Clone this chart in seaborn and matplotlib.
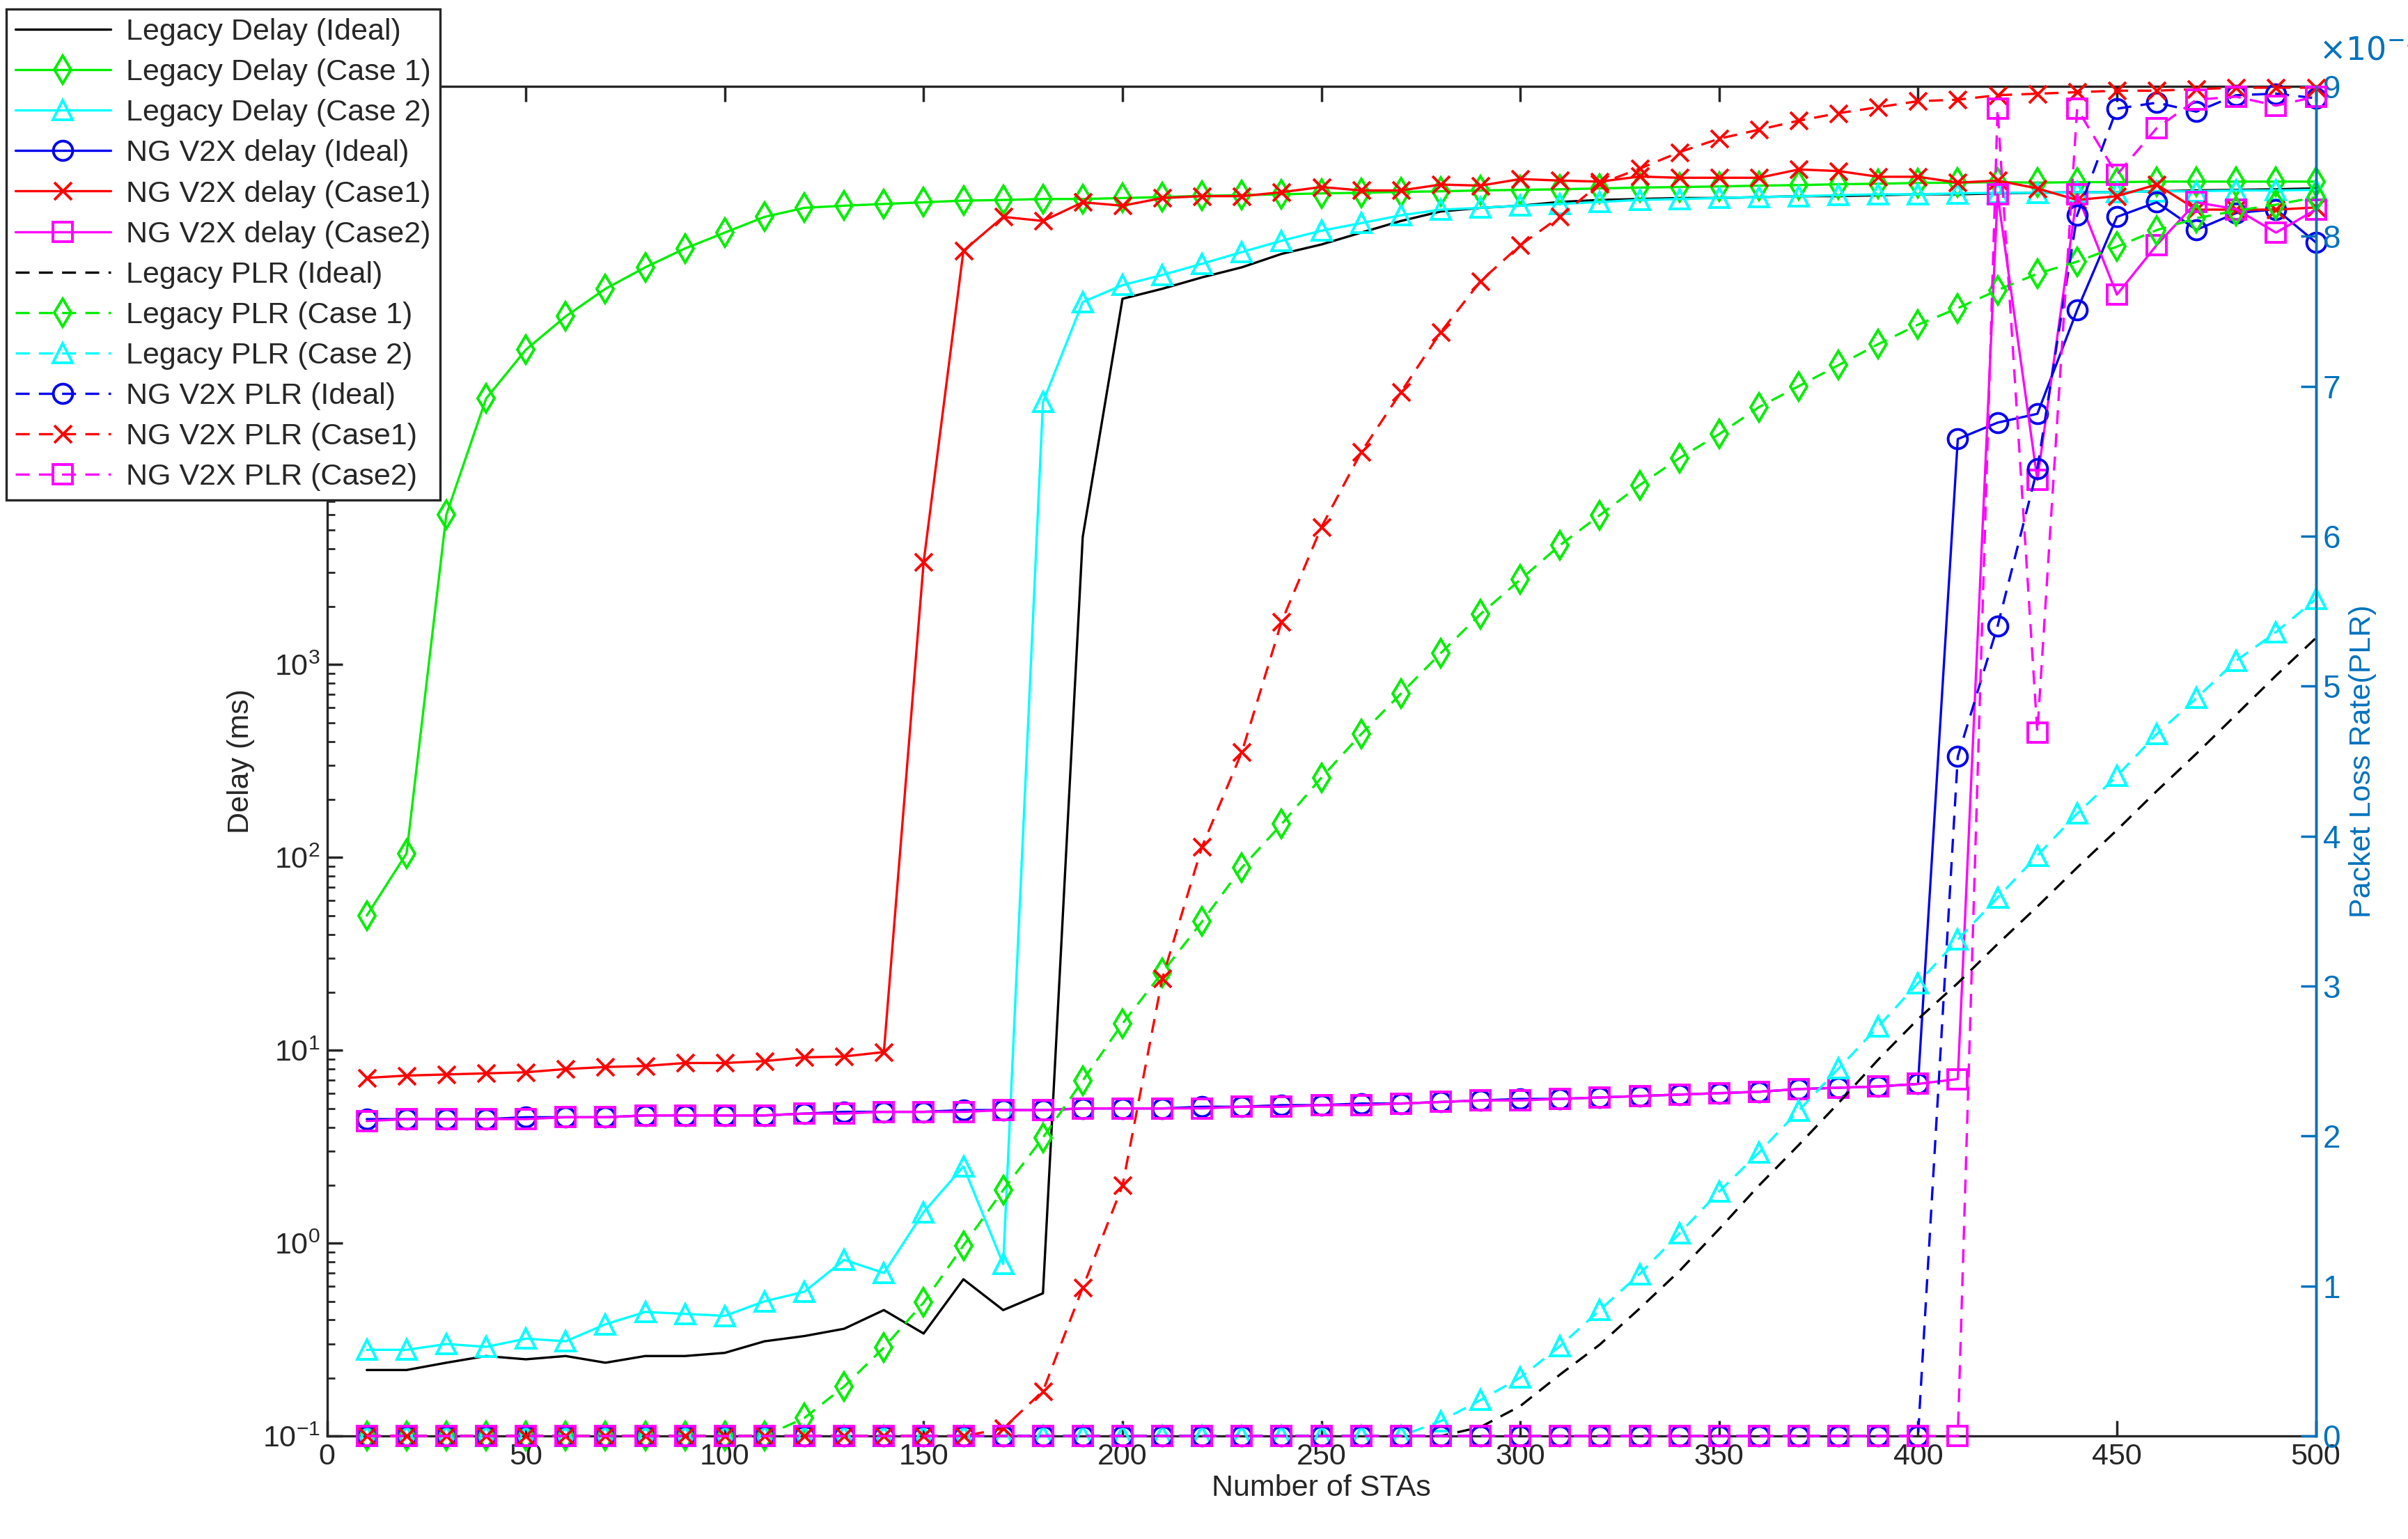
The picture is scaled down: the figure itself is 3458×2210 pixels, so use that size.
import numpy as np
import pandas as pd
import matplotlib
matplotlib.use("Agg")
import matplotlib.pyplot as plt
import seaborn as sns
from matplotlib.ticker import ScalarFormatter, LogLocator, MultipleLocator

sns.set_theme(style="white")
plt.rcParams['font.family'] = ['Liberation Sans', 'DejaVu Sans']

x = list(range(10, 501, 10))

legacy_delay_ideal = [0.22,0.22,0.24,0.26,0.25,0.26,0.24,0.26,0.26,0.27,0.31,0.33,0.36,0.45,0.34,0.65,0.45,0.55,
                      4600,7.9e4,8.9e4,1.02e5,1.15e5,1.35e5,1.51e5,1.74e5,2.0e5,2.24e5,2.34e5,2.4e5,2.51e5,2.57e5,
                      2.6e5,2.63e5,2.63e5,2.66e5,2.69e5,2.69e5,2.72e5,2.75e5,2.75e5,2.78e5,2.8e5,2.82e5,2.82e5,2.85e5,
                      2.88e5,2.9e5,2.92e5,2.95e5]
legacy_delay_c1 = [50,105,6000,2.4e4,4.3e4,6.4e4,8.9e4,1.15e5,1.44e5,1.74e5,2.1e5,2.34e5,2.4e5,2.45e5,2.5e5,2.55e5,
                   2.57e5,2.6e5,2.6e5,2.63e5,2.66e5,2.7e5,2.72e5,2.75e5,2.78e5,2.8e5,2.83e5,2.85e5,2.88e5,2.9e5,
                   2.92e5,2.95e5,2.98e5,3.0e5,3.02e5,3.05e5,3.07e5,3.1e5,3.12e5,3.15e5,3.16e5,3.18e5,3.16e5,3.18e5,
                   3.18e5,3.2e5,3.2e5,3.2e5,3.2e5,3.2e5]
legacy_delay_c2 = [0.28,0.28,0.30,0.29,0.32,0.31,0.38,0.44,0.43,0.42,0.50,0.56,0.82,0.70,1.45,2.5,0.78,
                   2.3e4,7.6e4,9.3e4,1.05e5,1.2e5,1.38e5,1.58e5,1.78e5,1.95e5,2.14e5,2.29e5,2.34e5,2.4e5,2.45e5,
                   2.51e5,2.57e5,2.6e5,2.63e5,2.66e5,2.69e5,2.72e5,2.75e5,2.75e5,2.78e5,2.8e5,2.8e5,2.82e5,2.82e5,
                   2.85e5,2.85e5,2.88e5,2.88e5,2.9e5]
ng_delay_ideal = [4.4,4.4,4.4,4.4,4.5,4.5,4.5,4.6,4.6,4.6,4.6,4.7,4.8,4.8,4.8,4.9,4.9,4.9,5.0,5.0,5.0,5.1,5.1,
                  5.2,5.2,5.3,5.3,5.4,5.5,5.6,5.6,5.7,5.8,5.9,6.0,6.1,6.3,6.4,6.5,6.7,
                  1.48e4,1.8e4,2.0e4,6.9e4,2.1e5,2.5e5,1.8e5,2.2e5,2.3e5,1.55e5]
ng_delay_c1 = [7.2,7.4,7.5,7.6,7.7,8.0,8.2,8.3,8.6,8.6,8.8,9.2,9.3,9.8,3400,1.4e5,2.1e5,2.0e5,2.5e5,2.4e5,
               2.63e5,2.69e5,2.69e5,2.82e5,3.0e5,2.88e5,2.88e5,3.09e5,3.05e5,3.3e5,3.24e5,3.2e5,3.4e5,3.35e5,
               3.35e5,3.35e5,3.7e5,3.63e5,3.39e5,3.39e5,3.16e5,3.24e5,2.95e5,2.57e5,2.69e5,3.09e5,2.29e5,2.29e5,
               2.29e5,2.35e5]
ng_delay_c2 = [4.3,4.4,4.4,4.4,4.4,4.5,4.5,4.6,4.6,4.6,4.6,4.7,4.7,4.8,4.8,4.8,4.9,4.9,5.0,5.0,5.0,5.0,5.1,
               5.1,5.2,5.2,5.3,5.4,5.5,5.5,5.6,5.7,5.8,5.9,6.0,6.1,6.3,6.4,6.5,6.7,7.1,
               2.75e5,9.1e3,2.75e5,8.3e4,1.5e5,2.5e5,2.3e5,1.74e5,2.29e5]

legacy_plr_ideal = [0]*28 + [0.06,0.2,0.41,0.61,0.85,1.1,1.38,1.67,1.94,2.22,2.51,2.78,3.02,3.28,3.53,3.79,
                             4.04,4.30,4.55,4.81,5.07,5.32]
legacy_plr_c1 = [0]*11 + [0.12,0.33,0.59,0.89,1.27,1.64,1.99,2.37,2.75,3.09,3.43,3.79,4.08,4.39,4.68,4.95,5.22,
                          5.48,5.71,5.94,6.14,6.34,6.52,6.68,6.86,7.0,7.14,7.28,7.41,7.52,7.64,7.75,7.83,7.93,
                          8.04,8.12,8.17,8.21,8.26]
legacy_plr_c2 = [0]*27 + [0.1,0.24,0.39,0.6,0.84,1.08,1.35,1.63,1.89,2.17,2.45,2.73,3.02,3.31,3.59,3.87,4.15,
                          4.40,4.68,4.92,5.17,5.36,5.58]
ng_plr_ideal = [0]*40 + [4.53,5.40,6.45,8.14,8.85,8.89,8.83,8.94,8.95,8.92]
ng_plr_c1 = [0]*16 + [0.05,0.3,0.99,1.67,3.05,3.93,4.56,5.43,6.06,6.56,6.96,7.36,7.70,7.94,8.13,8.35,8.45,8.56,
                      8.65,8.71,8.77,8.82,8.86,8.90,8.91,8.94,8.95,8.96,8.97,8.97,8.98,8.99,8.99,8.99]
ng_plr_c2 = [0]*41 + [8.85,4.69,8.85,8.41,8.72,8.91,8.93,8.87,8.93]

delay_series = [
    ("Legacy Delay (Ideal)", legacy_delay_ideal, "black", None),
    ("Legacy Delay (Case 1)", legacy_delay_c1, "#00ee00", "d"),
    ("Legacy Delay (Case 2)", legacy_delay_c2, "cyan", "^"),
    ("NG V2X delay (Ideal)", ng_delay_ideal, "#0000ee", "o"),
    ("NG V2X delay (Case1)", ng_delay_c1, "red", "x"),
    ("NG V2X delay (Case2)", ng_delay_c2, "magenta", "s"),
]
plr_series = [
    ("Legacy PLR (Ideal)", legacy_plr_ideal, "black", None),
    ("Legacy PLR (Case 1)", legacy_plr_c1, "#00ee00", "d"),
    ("Legacy PLR (Case 2)", legacy_plr_c2, "cyan", "^"),
    ("NG V2X PLR (Ideal)", ng_plr_ideal, "#0000ee", "o"),
    ("NG V2X PLR (Case1)", ng_plr_c1, "red", "x"),
    ("NG V2X PLR (Case2)", ng_plr_c2, "magenta", "s"),
]

fig = plt.figure(figsize=(17.29, 11.05), dpi=200)
ax = fig.add_axes([0.1358, 0.0669, 0.9617 - 0.1358, 0.944 - 0.0669])
ax2 = ax.twinx()
blue = "#0072BD"
FS = 15.5

handles = []
def draw(a, name, vals, color, marker, ls, scale=1.0):
    df = pd.DataFrame({"x": x, "y": np.array(vals, dtype=float) * scale})
    kw = dict(color=color, linestyle=ls, linewidth=1.2, clip_on=False)
    if marker:
        kw.update(marker=marker, markersize=10 if marker != "x" else 9, markerfacecolor="none",
                  markeredgecolor=color, markeredgewidth=1.4)
    sns.lineplot(data=df, x="x", y="y", ax=a, legend=False, **kw)
    line = a.get_lines()[-1]
    if ls == "--":
        line.set_dashes((6, 4))
    handles.append((line, name))

for name, vals, c, m in delay_series:
    draw(ax, name, vals, c, m, "-")
for name, vals, c, m in plr_series:
    draw(ax2, name, vals, c, m, "--", 1e-3)

ax.set_yscale("log")
ax.set_ylim(0.1, 1e6)
ax.set_xlim(0, 500)
ax.xaxis.set_major_locator(MultipleLocator(50))
ax.yaxis.set_major_locator(LogLocator(base=10, numticks=20))
ax.yaxis.set_minor_locator(LogLocator(base=10, subs=np.arange(2, 10), numticks=20))
ax2.set_ylim(0, 9e-3)
ax2.yaxis.set_major_locator(MultipleLocator(1e-3))
fmt = ScalarFormatter(useMathText=True)
fmt.set_powerlimits((-2, 2))
ax2.yaxis.set_major_formatter(fmt)
ax2.yaxis.get_offset_text().set_visible(False)
fig.text(0.963, 0.957, r"$\times10^{-3}$", color=blue, fontsize=FS + 1, ha="left", va="bottom")

for s in ["left", "top", "bottom"]:
    ax.spines[s].set_color("#262626")
    ax.spines[s].set_linewidth(1.2)
ax2.spines["right"].set_color(blue)
ax2.spines["right"].set_linewidth(1.2)
for s in ["left", "top", "bottom"]:
    ax2.spines[s].set_visible(False)

ax.tick_params(axis="both", which="both", direction="in", labelsize=FS, colors="#262626", top=True, left=True, bottom=True)
ax.tick_params(axis="y", which="major", length=8)
ax.tick_params(axis="y", which="minor", length=4)
ax.tick_params(axis="x", length=8)
ax2.tick_params(axis="y", direction="in", labelsize=FS + 1, colors=blue, length=8, right=True)

ax.set_xlabel("Number of STAs", fontsize=FS, color="#262626", labelpad=2)
ax.set_ylabel("Delay (ms)", fontsize=FS, color="#262626")
ax2.set_ylabel("Packet Loss Rate(PLR)", fontsize=FS, color=blue)
ax.grid(False); ax2.grid(False)

leg = fig.legend([h for h, _ in handles], [n for _, n in handles], loc="upper left",
                 bbox_to_anchor=(0.0025, 0.994), fontsize=FS, frameon=True, fancybox=False,
                 edgecolor="#262626", framealpha=1, handlelength=3.2, labelspacing=0.42,
                 borderaxespad=0, handletextpad=0.5, borderpad=0.3)
leg.get_frame().set_linewidth(1.2)

fig.savefig("out.png", dpi=200)
